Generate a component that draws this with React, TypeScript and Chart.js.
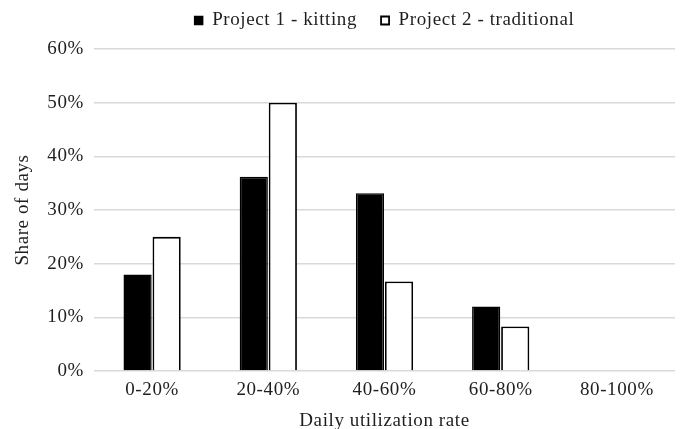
import React, { useEffect, useRef } from 'react';
import { Chart, registerables } from 'chart.js';

Chart.register(...registerables);

const categories = ['0-20%', '20-40%', '40-60%', '60-80%', '80-100%'];
const project1Kitting = [18, 36.2, 33.1, 12, 0];
const project2Traditional = [25, 50, 16.7, 8.3, 0];
const yMax = 60;
const yStep = 10;

const FONT = '"Liberation Serif", "Times New Roman", serif';
const TEXT = '#1e1e1e';
const SIZE = 19;
const SPACING = '0.6px';

const legendHeightPlugin = {
  id: 'legendHeight',
  beforeInit(chart: any) {
    const legend = chart.legend;
    if (!legend) return;
    const originalFit = legend.fit;
    legend.fit = function fit() {
      originalFit.call(this);
      this.height = 62;
    };
  },
};

const spacingPlugin = {
  id: 'letterSpacing',
  beforeLayout(chart: any) {
    (chart.ctx as any).letterSpacing = SPACING;
  },
  beforeDraw(chart: any) {
    (chart.ctx as any).letterSpacing = SPACING;
  },
};

export default function App() {
  const ref = useRef<HTMLCanvasElement>(null);

  useEffect(() => {
    if (!ref.current) return;
    const chart = new Chart(ref.current, {
      type: 'bar',
      data: {
        labels: categories,
        datasets: [
          {
            label: 'Project 1 - kitting',
            data: project1Kitting,
            backgroundColor: '#000000',
            borderColor: '#000000',
            borderWidth: 1.5,
            categoryPercentage: 0.5,
            barPercentage: 0.97,
          },
          {
            label: 'Project 2 - traditional',
            data: project2Traditional,
            backgroundColor: '#ffffff',
            borderColor: '#000000',
            borderWidth: 1.8,
            categoryPercentage: 0.5,
            barPercentage: 0.97,
          },
        ],
      },
      plugins: [legendHeightPlugin, spacingPlugin],
      options: {
        animation: false,
        responsive: false,
        maintainAspectRatio: false,
        layout: { padding: { top: -13, right: 9, left: 0, bottom: 0 } },
        plugins: {
          legend: {
            position: 'top',
            fullSize: false,
            labels: {
              font: { family: FONT, size: SIZE },
              color: TEXT,
              boxWidth: 8,
              boxHeight: 8,
              padding: 24,
            },
          },
          tooltip: { enabled: false },
        },
        scales: {
          x: {
            grid: { display: false, drawTicks: false },
            border: { display: false },
            ticks: { font: { family: FONT, size: SIZE }, color: TEXT, padding: 8 },
            title: {
              display: true,
              text: 'Daily utilization rate',
              font: { family: FONT, size: SIZE },
              color: TEXT,
              padding: { top: 2, bottom: -3 },
            },
            afterFit: (s: any) => { s.height = 58; },
          },
          y: {
            min: 0,
            max: yMax,
            grid: { color: '#d9d9d9', lineWidth: 1.5, drawTicks: false },
            border: { display: false },
            ticks: {
              stepSize: yStep,
              font: { family: FONT, size: SIZE },
              color: TEXT,
              padding: 10,
              callback: (v: any) => v + '%',
            },
            title: {
              display: true,
              text: 'Share of days',
              font: { family: FONT, size: SIZE },
              color: TEXT,
              padding: { top: 12, bottom: 0 },
            },
            afterFit: (s: any) => { s.width = 94; },
          },
        },
      },
    });
    return () => chart.destroy();
  }, []);

  return (
    <div style={{ position: 'fixed', left: 0, top: 0, width: 684, height: 429, background: '#fff' }}>
      <canvas ref={ref} width={684} height={429} style={{ width: 684, height: 429 }} />
    </div>
  );
}
